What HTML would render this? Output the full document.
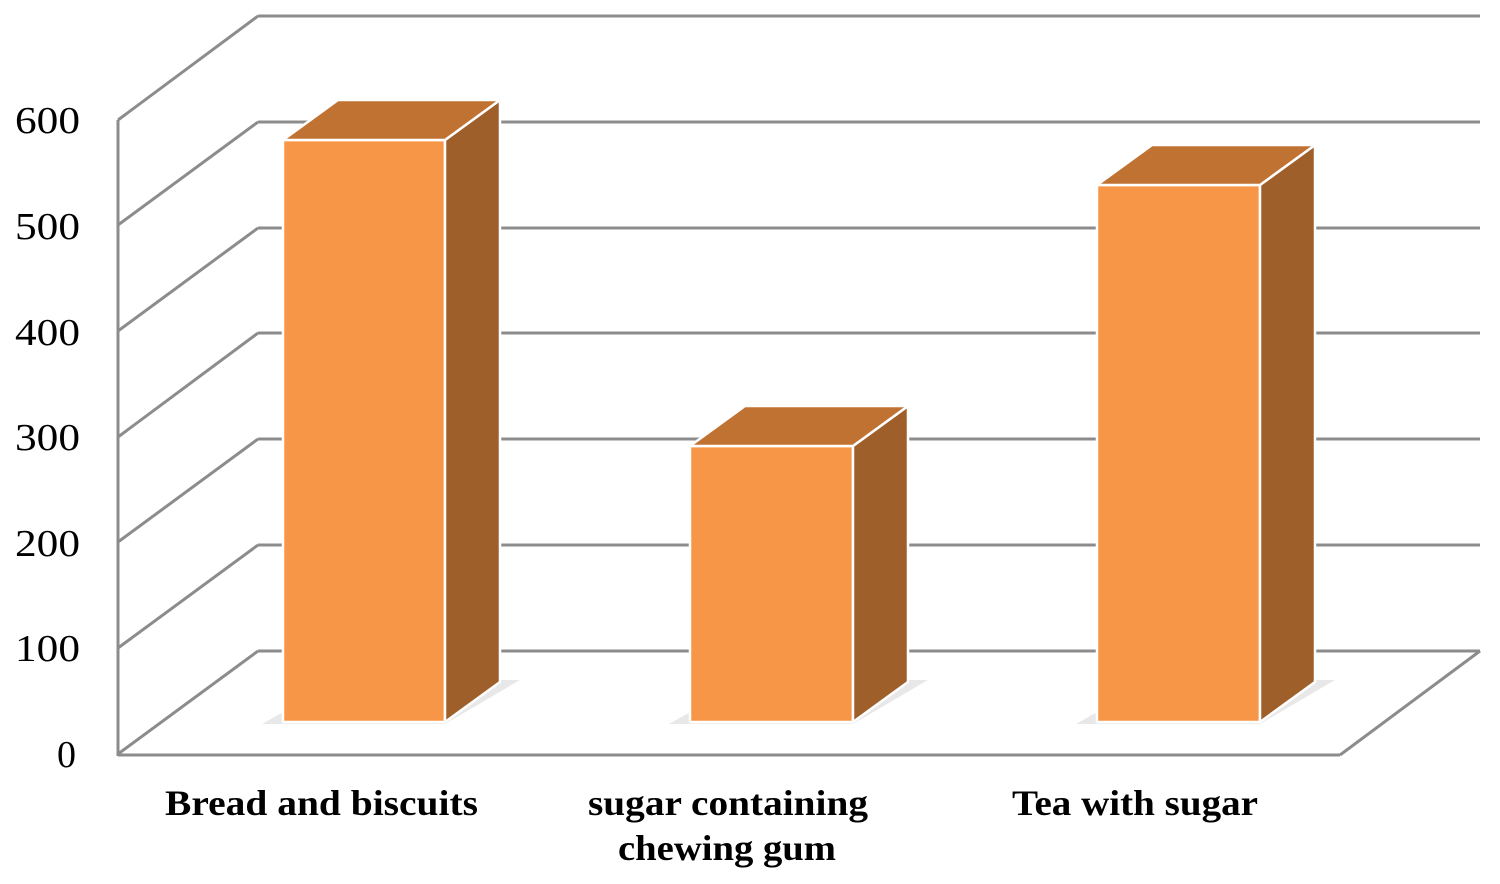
<!DOCTYPE html>
<html><head><meta charset="utf-8"><style>
html,body{margin:0;padding:0;background:#fff;}
</style></head><body>
<svg width="1500" height="879" viewBox="0 0 1500 879" xmlns="http://www.w3.org/2000/svg">
<g stroke="#8c8c8c" stroke-width="3" fill="none">
<line x1="258" y1="16" x2="1480" y2="16"/>
<line x1="258" y1="122" x2="1480" y2="122"/>
<line x1="258" y1="228" x2="1480" y2="228"/>
<line x1="258" y1="333" x2="1480" y2="333"/>
<line x1="258" y1="439" x2="1480" y2="439"/>
<line x1="258" y1="545" x2="1480" y2="545"/>
<line x1="258" y1="651" x2="1480" y2="651"/>
<line x1="118" y1="120" x2="258" y2="16"/>
<line x1="118" y1="225" x2="258" y2="122"/>
<line x1="118" y1="331" x2="258" y2="228"/>
<line x1="118" y1="437" x2="258" y2="333"/>
<line x1="118" y1="542" x2="258" y2="439"/>
<line x1="118" y1="648" x2="258" y2="545"/>
<line x1="118" y1="754" x2="258" y2="651"/>
<line x1="118" y1="120" x2="118" y2="756"/>
<line x1="118" y1="755" x2="1340" y2="755"/>
<line x1="1340" y1="755" x2="1480" y2="651"/>
</g>
<g stroke="#fff" stroke-width="2.5" stroke-linejoin="round">
<polygon points="262,724 445,724 520,680 340,680" fill="#d8d8d8" stroke="none" opacity="0.6"/>
<polygon points="669,724 853,724 928,680 747,680" fill="#d8d8d8" stroke="none" opacity="0.6"/>
<polygon points="1076,724 1260,724 1335,680 1154,680" fill="#d8d8d8" stroke="none" opacity="0.6"/>

<polygon points="283,140 445,140 445,722 283,722" fill="#F79646"/>
<polygon points="445,140 500,100 500,682 445,722" fill="#9E5F2A"/>
<polygon points="283,140 445,140 500,100 338,100" fill="#C07232"/>

<polygon points="690,446 853,446 853,722 690,722" fill="#F79646"/>
<polygon points="853,446 908,406 908,682 853,722" fill="#9E5F2A"/>
<polygon points="690,446 853,446 908,406 745,406" fill="#C07232"/>

<polygon points="1097,185 1260,185 1260,722 1097,722" fill="#F79646"/>
<polygon points="1260,185 1315,145 1315,682 1260,722" fill="#9E5F2A"/>
<polygon points="1097,185 1260,185 1315,145 1152,145" fill="#C07232"/>
</g>
<g font-family="Liberation Serif, serif" font-size="38" fill="#000">
<text x="15" y="133" textLength="65" lengthAdjust="spacingAndGlyphs">600</text>
<text x="15" y="239" textLength="65" lengthAdjust="spacingAndGlyphs">500</text>
<text x="15" y="345" textLength="65" lengthAdjust="spacingAndGlyphs">400</text>
<text x="15" y="450" textLength="65" lengthAdjust="spacingAndGlyphs">300</text>
<text x="15" y="556" textLength="65" lengthAdjust="spacingAndGlyphs">200</text>
<text x="15" y="661" textLength="65" lengthAdjust="spacingAndGlyphs">100</text>
<text x="57" y="767">0</text>
</g>
<g font-family="Liberation Serif, serif" font-size="36" font-weight="bold" fill="#000">
<text x="165" y="815" textLength="313" lengthAdjust="spacingAndGlyphs">Bread and biscuits</text>
<text x="588" y="815" textLength="280" lengthAdjust="spacingAndGlyphs">sugar containing</text>
<text x="618" y="860" textLength="218" lengthAdjust="spacingAndGlyphs">chewing gum</text>
<text x="1012" y="815" textLength="246" lengthAdjust="spacingAndGlyphs">Tea with sugar</text>
</g>
</svg>
</body></html>
